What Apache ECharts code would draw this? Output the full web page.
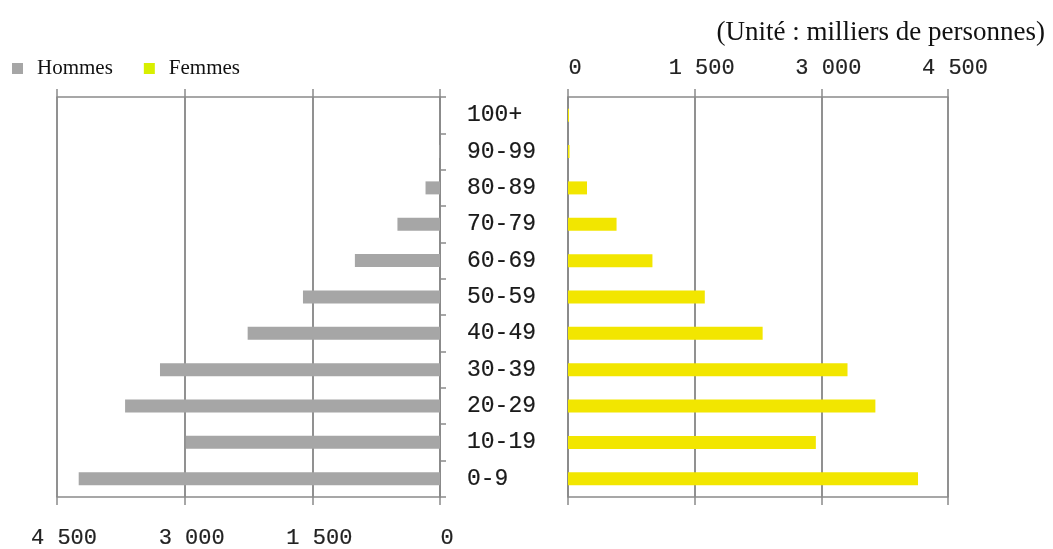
<!DOCTYPE html>
<html>
<head>
<meta charset="utf-8">
<script src="https://cdn.jsdelivr.net/npm/echarts@6/dist/echarts.min.js"></script>
<style>
  html, body { margin: 0; padding: 0; background: #fff; }
  #chart { width: 1053px; height: 549px; }
</style>
</head>
<body>
<div id="chart"></div>
<script>
// Age groups, bottom to top
const ageGroups = ['0-9', '10-19', '20-29', '30-39', '40-49', '50-59', '60-69', '70-79', '80-89', '90-99', '100+'];
// Population in thousands
const hommes = [4245, 2985, 3700, 3290, 2260, 1610, 1000, 500, 170, 8, 1];
const femmes = [4145, 2935, 3640, 3310, 2305, 1620, 1000, 575, 225, 18, 12];
// Value-axis ticks and their printed labels
const tickValues = [0, 1500, 3000, 4500];
const tickLabels = ['0', '1 500', '3 000', '4 500'];

const lineColor = '#8a8a8a';
const monoFont = '"Liberation Mono", monospace';
const serifFont = '"Liberation Serif", "Times New Roman", serif';

const fmt = v => tickLabels[tickValues.indexOf(v)] ?? '';

function valueAxis(gridIndex, position, inverse, withLabels) {
  return {
    type: 'value', gridIndex, position, inverse,
    min: 0, max: 4500, interval: 1500,
    axisLine: { show: true, lineStyle: { color: lineColor, width: 1.5 } },
    axisTick: { show: true, length: 8, lineStyle: { color: lineColor, width: 1.5 } },
    splitLine: { show: true, lineStyle: { color: lineColor, width: 1.5 } },
    axisLabel: withLabels ? {
      show: true, formatter: fmt, margin: position === 'top' ? 18 : 30,
      fontFamily: monoFont, fontSize: 22, color: '#222',
      textBorderColor: '#222', textBorderWidth: 0.2,
      padding: [0, 0, 0, 14]
    } : { show: false }
  };
}

const chart = echarts.init(document.getElementById('chart'));
chart.setOption({
  animation: false,
  title: {
    text: '(Unité : milliers de personnes)',
    right: 3, top: 14,
    textStyle: { fontFamily: serifFont, fontSize: 27, fontWeight: 'normal', color: '#111' }
  },
  legend: {
    left: 7, top: 53,
    icon: 'rect', itemWidth: 11, itemHeight: 11, itemGap: 31,
    textStyle: { fontFamily: serifFont, fontSize: 21, color: '#111', padding: [0, 0, 0, 9] },
    data: [
      { name: 'Hommes' },
      { name: 'Femmes', itemStyle: { color: '#d8ef00' } }
    ]
  },
  grid: [
    { left: 57, right: 613, top: 97, bottom: 52 },
    { left: 568, right: 105, top: 97, bottom: 52 }
  ],
  xAxis: [
    valueAxis(0, 'bottom', true, true),
    valueAxis(0, 'top', true, false),
    valueAxis(1, 'top', false, true),
    valueAxis(1, 'bottom', false, false)
  ],
  yAxis: [
    {
      type: 'category', gridIndex: 0, position: 'right', data: ageGroups,
      axisLine: { show: true, lineStyle: { color: lineColor, width: 1.5 } },
      axisTick: { show: true, length: 6, lineStyle: { color: lineColor, width: 1.5 } },
      axisLabel: {
        show: true, margin: 27, align: 'left',
        fontFamily: monoFont, fontSize: 23, color: '#1a1a1a',
        textBorderColor: '#1a1a1a', textBorderWidth: 0.2
      }
    },
    {
      type: 'category', gridIndex: 1, position: 'left', data: ageGroups,
      axisLine: { show: true, lineStyle: { color: lineColor, width: 1.5 } },
      axisTick: { show: false },
      axisLabel: { show: false }
    }
  ],
  series: [
    {
      name: 'Hommes', type: 'bar', xAxisIndex: 0, yAxisIndex: 0,
      data: hommes, barWidth: 13,
      itemStyle: { color: '#a6a6a6' }
    },
    {
      name: 'Femmes', type: 'bar', xAxisIndex: 2, yAxisIndex: 1,
      data: femmes, barWidth: 13,
      itemStyle: { color: '#f2e600' }
    }
  ]
});
</script>
</body>
</html>
